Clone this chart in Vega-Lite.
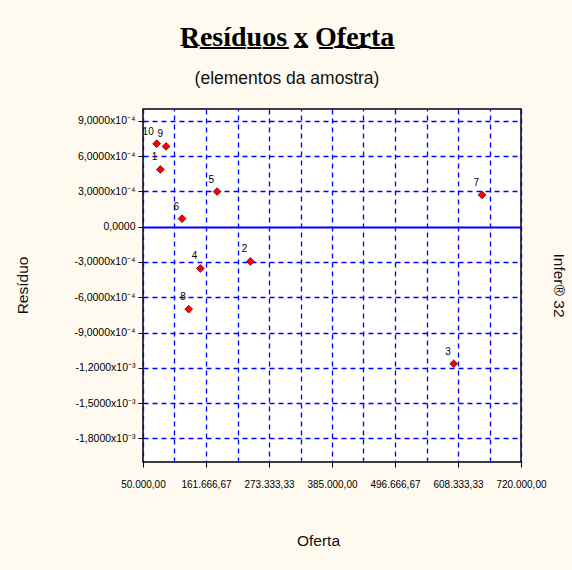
{
  "$schema": "https://vega.github.io/schema/vega-lite/v6.json",
  "width": 378,
  "height": 353,
  "autosize": {"type": "none"},
  "padding": {"left": 143, "top": 109, "right": 51, "bottom": 108},
  "background": "#FFFAEF",
  "title": {
    "text": "R\u0332e\u0332s\u0332\u00ed\u0332d\u0332u\u0332o\u0332s\u0332 x\u0332 O\u0332f\u0332e\u0332r\u0332t\u0332a\u0332",
    "subtitle": "(elementos da amostra)",
    "anchor": "middle",
    "dx": -45,
    "offset": 22,
    "font": "Liberation Serif",
    "fontSize": 28,
    "fontWeight": "bold",
    "color": "#000000",
    "subtitleFont": "Liberation Sans",
    "subtitleFontSize": 17.5,
    "subtitleColor": "#111111",
    "subtitlePadding": 18
  },
  "config": {
    "view": {"stroke": "#000000", "strokeWidth": 1.5, "fill": "#FFFFFF"},
    "axis": {
      "labelFont": "Liberation Sans Narrow, Liberation Sans",
      "labelFontSize": 9,
      "labelColor": "#000000",
      "domainColor": "#000000",
      "tickColor": "#000000",
      "titleFont": "Liberation Sans",
      "titleFontSize": 15.5,
      "titleFontWeight": "normal",
      "titleColor": "#111111",
      "gridColor": "#0000FF"
    }
  },
  "data": {
    "values": [
      {"obs": "1", "oferta": 80800, "residuo": 0.000486},
      {"obs": "2", "oferta": 240400, "residuo": -0.000296},
      {"obs": "3", "oferta": 600700, "residuo": -0.001165},
      {"obs": "4", "oferta": 151700, "residuo": -0.000355},
      {"obs": "5", "oferta": 181300, "residuo": 0.000298},
      {"obs": "6", "oferta": 119300, "residuo": 0.000068},
      {"obs": "7", "oferta": 651000, "residuo": 0.00027},
      {"obs": "8", "oferta": 131000, "residuo": -0.000701},
      {"obs": "9", "oferta": 90900, "residuo": 0.000682},
      {"obs": "10", "oferta": 74300, "residuo": 0.000705}
    ]
  },
  "resolve": {"axis": {"x": "independent", "y": "independent"}},
  "layer": [
    {
      "mark": {"type": "point", "shape": "diamond", "filled": true, "size": 60, "fill": "#FF0000", "stroke": "#600000", "strokeWidth": 0.8, "opacity": 1},
      "encoding": {
        "x": {
          "field": "oferta", "type": "quantitative",
          "scale": {"domain": [50000, 720000], "nice": false, "zero": false},
          "axis": {
            "title": "Oferta",
            "titleX": 175, "titleY": 78, "titleAlign": "center", "titleBaseline": "middle",
            "values": [50000, 161666.667, 273333.333, 385000, 496666.667, 608333.333, 720000],
            "labelExpr": "replace(replace(replace(format(datum.value, ',.2f'), ',', '_'), '.', ','), '_', '.')",
            "labelFontSize": 10,
            "labelPadding": 12,
            "labelFlush": false,
            "labelOverlap": false,
            "tickSize": 5,
            "grid": true,
            "gridDash": [5, 4],
            "gridWidth": 1.3,
            "domain": false
          }
        },
        "y": {
          "field": "residuo", "type": "quantitative",
          "scale": {"domain": [-0.002, 0.001], "nice": false, "zero": false},
          "axis": {
            "title": "Resíduo",
            "titleX": -121, "titleY": 176, "titleAngle": -90, "titleAlign": "center", "titleBaseline": "middle",
            "values": [0.0009, 0.0006, 0.0003, 0, -0.0003, -0.0006, -0.0009, -0.0012, -0.0015, -0.0018],
            "labelExpr": "datum.value == 0 ? '0,0000' : (abs(datum.value) > 0.00095 ? (datum.value < 0 ? '-' : '') + replace(format(abs(datum.value)*1000, '.4f'), '.', ',') + 'x10⁻³' : (datum.value < 0 ? '-' : '') + replace(format(abs(datum.value)*10000, '.4f'), '.', ',') + 'x10⁻⁴')",
            "labelFontSize": 10.5,
            "labelPadding": 3,
            "labelOverlap": false,
            "labelFlush": false,
            "tickSize": 5,
            "grid": true,
            "gridDash": {"condition": {"test": "datum.value == 0", "value": []}, "value": [5, 4]},
            "gridWidth": {"condition": {"test": "datum.value == 0", "value": 1.8}, "value": 1.3},
            "domain": false
          }
        }
      }
    },
    {
      "mark": {"type": "text", "align": "right", "baseline": "middle", "dx": -3, "dy": -12, "font": "Liberation Sans", "fontSize": 10, "color": "#000000"},
      "encoding": {
        "x": {
          "field": "oferta", "type": "quantitative",
          "axis": {
            "orient": "top",
            "title": null,
            "values": [105833.333, 217500, 329166.667, 440833.333, 552500, 664166.667],
            "labels": false, "ticks": false, "domain": false,
            "grid": true, "gridDash": [5, 4], "gridWidth": 1.3
          }
        },
        "y": {
          "field": "residuo", "type": "quantitative",
          "axis": {
            "orient": "right",
            "title": "Infer® 32",
            "titleX": 37, "titleY": 176, "titleAngle": 90, "titleAlign": "center", "titleBaseline": "middle",
            "labels": false, "ticks": false, "domain": false, "grid": false
          }
        },
        "text": {"field": "obs"}
      }
    }
  ]
}
